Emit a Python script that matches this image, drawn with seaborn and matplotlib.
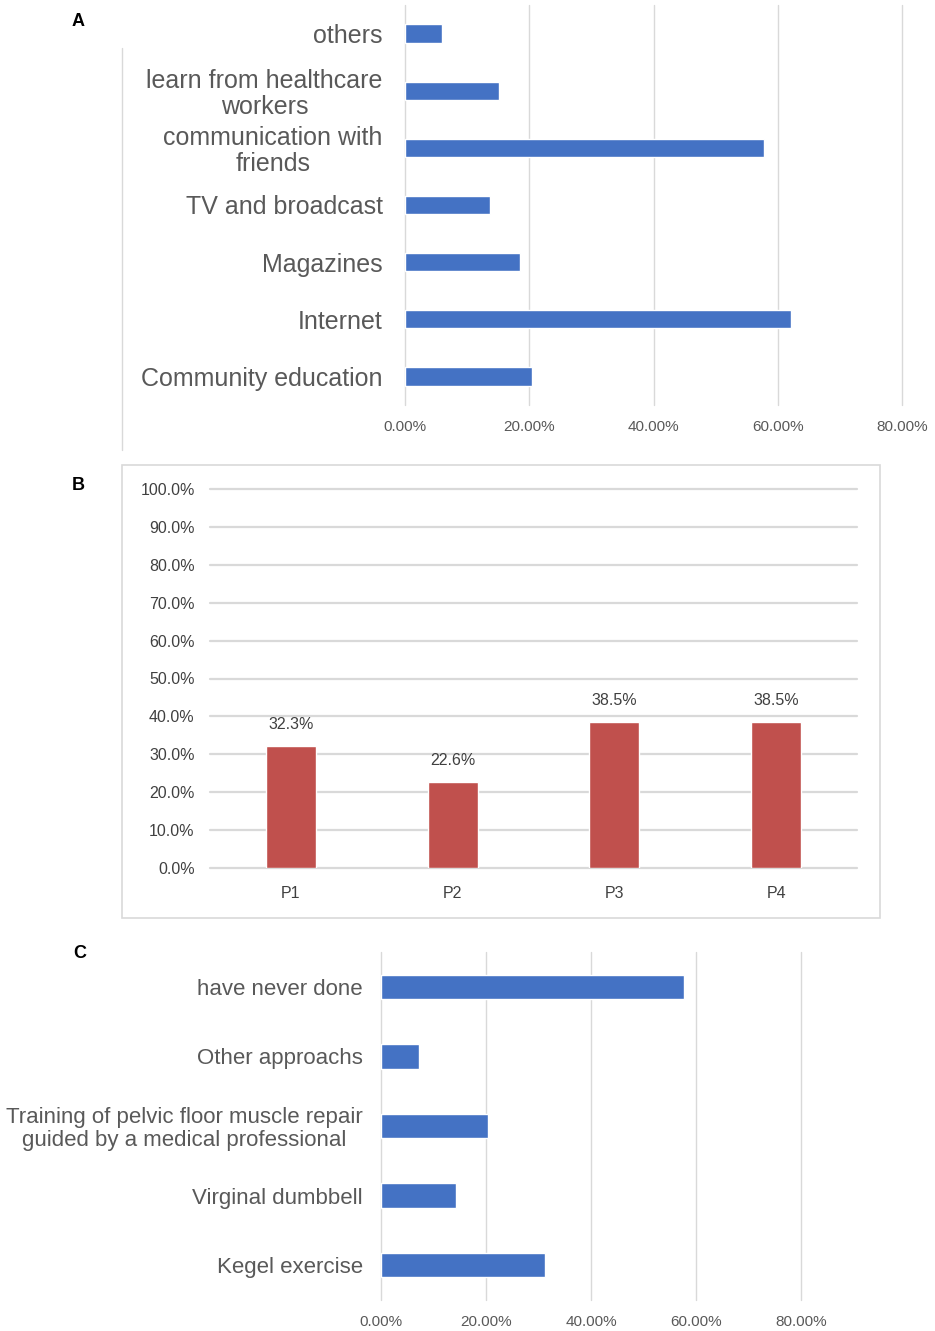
import numpy as np
import pandas as pd
import seaborn as sns
import matplotlib.pyplot as plt
from matplotlib.lines import Line2D
from matplotlib.patches import Rectangle

# panel A: sources of knowledge
sources = ['others', 'learn from healthcare\nworkers', 'communication with\nfriends',
           'TV and broadcast', 'Magazines', 'Internet', 'Community education']
source_pct = [6.0, 15.1, 57.8, 13.7, 18.5, 62.1, 20.4]

# panel B: awareness per question
questions = ['P1', 'P2', 'P3', 'P4']
question_pct = [32.3, 22.6, 38.5, 38.5]

# panel C: pelvic floor training approaches
approaches = ['have never done', 'Other approachs',
              'Training of pelvic floor muscle repair\nguided by a medical professional',
              'Virginal dumbbell', 'Kegel exercise']
approach_pct = [57.7, 7.2, 20.4, 14.3, 31.2]

sns.set_style('white')
plt.rcParams['font.family'] = ['Liberation Sans', 'DejaVu Sans']

BLUE = '#4472C4'
RED = '#C0504D'
GRID = '#d9d9d9'
TXT = '#595959'

W, H = 935, 1331
fig = plt.figure(figsize=(W / 100, H / 100), dpi=100)


def px_axes(x0, y0, x1, y1):
    return fig.add_axes([x0 / W, 1 - y1 / H, (x1 - x0) / W, (y1 - y0) / H])


def hbar(ax, cats, vals, height, lab_size, lab_pad, tick_pad):
    df = pd.DataFrame({'cat': cats, 'pct': vals})
    sns.barplot(data=df, x='pct', y='cat', orient='h', color=BLUE,
                width=height, saturation=1, ax=ax)
    ax.set_xlim(0, 80)
    ax.set_ylim(len(cats) - 0.5, -0.5)
    ax.set_xticks(np.arange(0, 81, 20))
    ax.set_xticklabels(['{:.2f}%'.format(v) for v in np.arange(0, 81, 20)])
    ax.grid(axis='x', color=GRID, lw=1)
    for gl in ax.get_xgridlines():
        gl.set_clip_on(False)
    ax.set_axisbelow(True)
    for s in ax.spines.values():
        s.set_visible(False)
    ax.set_xlabel('')
    ax.set_ylabel('')
    ax.tick_params(axis='y', length=0, pad=lab_pad, labelsize=lab_size, labelcolor=TXT)
    ax.tick_params(axis='x', length=0, pad=tick_pad, labelsize=11, labelcolor=TXT)
    for t in ax.get_yticklabels():
        t.set_multialignment('center')
        t.set_linespacing(1.1)


# A
axA = px_axes(405, 5, 902, 405)
hbar(axA, sources, source_pct, 0.32, 18, 16, 11)
fig.add_artist(Line2D([122 / W, 122 / W], [1 - 48 / H, 1 - 450 / H],
                      color=GRID, lw=1))

# B
fig.add_artist(Rectangle((122 / W, 1 - 918 / H), (880 - 122) / W, (918 - 465) / H,
                         fill=False, edgecolor=GRID, lw=1.2))
axB = px_axes(210, 489, 857, 868)
dfB = pd.DataFrame({'q': questions, 'pct': question_pct})
sns.barplot(data=dfB, x='q', y='pct', color=RED, width=0.31, saturation=1, ax=axB)
axB.set_ylim(0, 100)
axB.set_xlim(-0.5, 3.5)
axB.set_yticks(np.arange(0, 101, 10))
axB.set_yticklabels(['{:.1f}%'.format(v) for v in np.arange(0, 101, 10)])
axB.grid(axis='y', color=GRID, lw=1.6)
for gl in axB.get_ygridlines():
    gl.set_clip_on(False)
axB.set_axisbelow(True)
for s in axB.spines.values():
    s.set_visible(False)
axB.set_xlabel('')
axB.set_ylabel('')
axB.tick_params(axis='y', length=0, pad=11, labelsize=11.5, labelcolor='#404040')
axB.tick_params(axis='x', length=0, pad=13, labelsize=11.5, labelcolor='#404040')
axB.bar_label(axB.containers[0], labels=['{:.1f}%'.format(v) for v in question_pct],
              padding=10, fontsize=11.5, color='#404040')

# C
axC = px_axes(381, 952, 801, 1300)
hbar(axC, approaches, approach_pct, 0.35, 16, 13, 11)

for lab, x, y in [('A', 78, 22), ('B', 78, 486), ('C', 80, 953)]:
    fig.text(x / W, 1 - y / H, lab, fontsize=13, fontweight='bold',
             ha='center', va='center', color='black')

fig.savefig('out.png', dpi=100)
